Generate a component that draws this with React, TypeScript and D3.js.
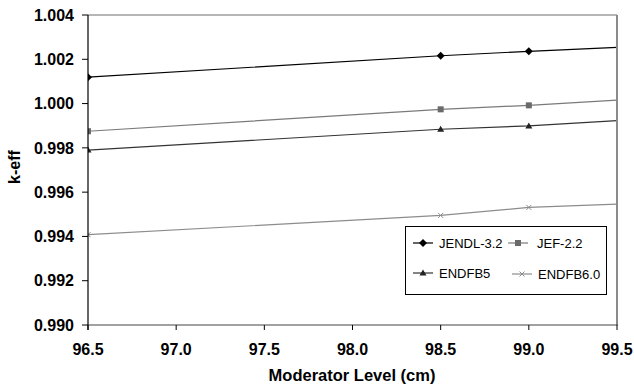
import React from "react";
import * as d3 from "d3";

const xValues = [96.5, 98.5, 99.0, 99.5];
const jendl = [1.00119, 1.00216, 1.00236, 1.00254];
const jef = [0.99875, 0.99974, 0.99992, 1.00016];
const endfb5 = [0.9979, 0.99884, 0.99899, 0.99923];
const endfb6 = [0.99408, 0.99495, 0.99531, 0.99546];
const xTicks = [96.5, 97.0, 97.5, 98.0, 98.5, 99.0, 99.5];
const yTicks = [0.99, 0.992, 0.994, 0.996, 0.998, 1.0, 1.002, 1.004];

const W = 634, H = 389;
const left = 88, right = 617, top = 15, bottom = 325;
const FONT = "'Liberation Sans', Arial, Helvetica, sans-serif";

const x = d3.scaleLinear().domain([96.5, 99.5]).range([left, right]);
const y = d3.scaleLinear().domain([0.99, 1.004]).range([bottom, top]);

type Series = { name: string; values: number[]; line: string; mark: string; shape: string };
const series: Series[] = [
  { name: "JENDL-3.2", values: jendl, line: "#000000", mark: "#000000", shape: "diamond" },
  { name: "JEF-2.2", values: jef, line: "#7a7a7a", mark: "#6a6a6a", shape: "square" },
  { name: "ENDFB5", values: endfb5, line: "#333333", mark: "#222222", shape: "triangle" },
  { name: "ENDFB6.0", values: endfb6, line: "#8c8c8c", mark: "#8c8c8c", shape: "x" },
];

function Marker({ shape, cx, cy, color }: { shape: string; cx: number; cy: number; color: string }) {
  if (shape === "diamond") {
    const s = 4;
    return <path d={`M${cx},${cy - s}L${cx + s},${cy}L${cx},${cy + s}L${cx - s},${cy}Z`} fill={color} />;
  }
  if (shape === "square") {
    return <rect x={cx - 3} y={cy - 3} width={6} height={6} fill={color} />;
  }
  if (shape === "triangle") {
    return <path d={`M${cx},${cy - 3.5}L${cx + 3.5},${cy + 2.5}L${cx - 3.5},${cy + 2.5}Z`} fill={color} />;
  }
  const s = 2.5;
  return (
    <path d={`M${cx - s},${cy - s}L${cx + s},${cy + s}M${cx - s},${cy + s}L${cx + s},${cy - s}`} stroke={color} strokeWidth={1} fill="none" />
  );
}

export default function App() {
  const line = d3
    .line<number>()
    .x((_, i) => x(xValues[i]))
    .y((d) => y(d));

  const legendItems = [
    { s: series[0], lx: 413, ly: 243, tx: 439 },
    { s: series[1], lx: 508, ly: 243, tx: 537 },
    { s: series[2], lx: 413, ly: 273, tx: 439 },
    { s: series[3], lx: 512, ly: 274, tx: 538 },
  ];

  return (
    <svg width={W} height={H} style={{ position: "absolute", left: 0, top: 0, background: "#fff" }} fontFamily={FONT}>
      <defs>
        <clipPath id="plotclip">
          <rect x={left} y={top} width={right - left} height={bottom - top} />
        </clipPath>
      </defs>
      <rect x={0} y={0} width={W} height={H} fill="#fff" />
      {/* frame */}
      <line x1={left} y1={top} x2={right} y2={top} stroke="#6e6e6e" strokeWidth={1} />
      {/* series */}
      <g clipPath="url(#plotclip)">
        {series.map((s) => (
          <g key={s.name}>
            <path d={line(s.values) || ""} fill="none" stroke={s.line} strokeWidth={1.2} />
            {s.values.map((v, i) =>
              xValues[i] < 99.5 ? <Marker key={i} shape={s.shape} cx={x(xValues[i])} cy={y(v)} color={s.mark} /> : null
            )}
          </g>
        ))}
      </g>
      <line x1={right} y1={top} x2={right} y2={bottom} stroke="#8a8a8a" strokeWidth={2} />
      {/* axes */}
      <line x1={left} y1={top} x2={left} y2={bottom + 5} stroke="#000" strokeWidth={1.2} />
      <line x1={left} y1={bottom} x2={right + 1} y2={bottom} stroke="#444" strokeWidth={1.2} />
      {yTicks.map((t) => (
        <g key={t}>
          <line x1={left - 6} x2={left} y1={y(t)} y2={y(t)} stroke="#000" strokeWidth={1} />
          <text x={74} y={y(t)} dy="0.36em" textAnchor="end" fontSize={16} fontWeight="bold" fill="#000">
            {d3.format(".3f")(t)}
          </text>
        </g>
      ))}
      {xTicks.map((t) => (
        <g key={t}>
          <line x1={x(t)} x2={x(t)} y1={bottom} y2={bottom + 5} stroke="#000" strokeWidth={1} />
          <text x={x(t)} y={355} textAnchor="middle" fontSize={16} fontWeight="bold" fill="#000">
            {d3.format(".1f")(t)}
          </text>
        </g>
      ))}
      <text x={352} y={381} textAnchor="middle" fontSize={16.5} fontWeight="bold" fill="#000">
        Moderator Level (cm)
      </text>
      <text transform={`translate(20,167) rotate(-90)`} textAnchor="middle" fontSize={16} fontWeight="bold" fill="#000">
        k-eff
      </text>
      {/* legend */}
      <rect x={405.5} y={226.5} width={201} height={68} fill="#fff" stroke="#000" strokeWidth={1} />
      {legendItems.map(({ s, lx, ly, tx }) => (
        <g key={s.name}>
          <line x1={lx} x2={lx + 20} y1={ly} y2={ly} stroke={s.line} strokeWidth={1.2} />
          <Marker shape={s.shape} cx={lx + 10} cy={ly} color={s.mark} />
          <text x={tx} y={ly} dy="0.36em" fontSize={13} fill="#000">
            {s.name}
          </text>
        </g>
      ))}
    </svg>
  );
}
